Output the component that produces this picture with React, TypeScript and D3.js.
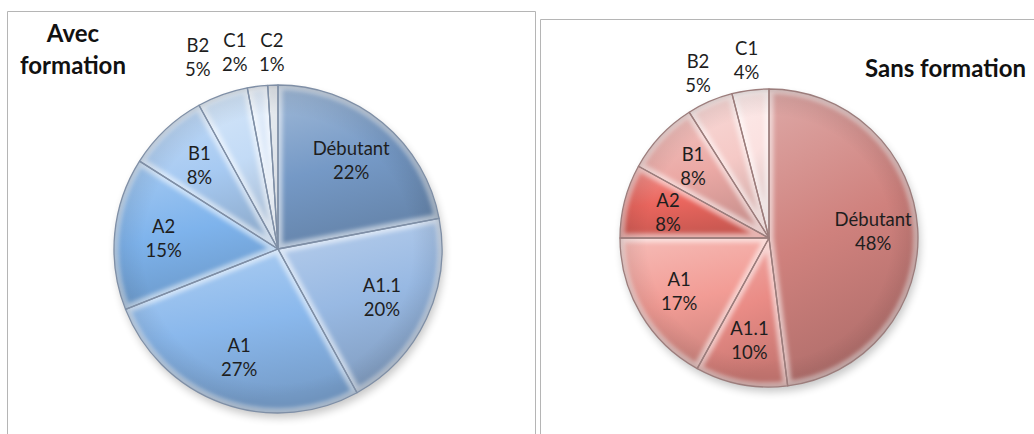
import React from "react";
import * as d3 from "d3";

// ---------- data ----------
const avecCategories = ["Débutant", "A1.1", "A1", "A2", "B1", "B2", "C1", "C2"];
const avecValues = [22, 20, 27, 15, 8, 5, 2, 1];
const avecColors = ["#7599c6", "#98b9e3", "#8ab8ec", "#7eb3ec", "#a7caf2", "#c3dbf6", "#d8e6f8", "#b9c4d2"];

const sansCategories = ["Débutant", "A1.1", "A1", "A2", "B1", "B2", "C1"];
const sansValues = [48, 10, 17, 8, 8, 5, 4];
const sansColors = ["#cf817d", "#ea8c86", "#f29c95", "#ea665e", "#eba9a5", "#f5c9c6", "#fbe1e0"];

const avecTitle = ["Avec", "formation"];
const sansTitle = ["Sans formation"];

const FONT = "Lato, 'Noto Sans', sans-serif";

type PieProps = {
  id: string;
  cx: number;
  cy: number;
  r: number;
  categories: string[];
  values: number[];
  colors: string[];
  edge: string;
};

function Pie({ id, cx, cy, r, categories, values, colors, edge }: PieProps) {
  const pie = d3
    .pie<number>()
    .sort(null)
    .value((d) => d)
    .startAngle(0)
    .endAngle(2 * Math.PI);
  const arcs = pie(values);
  const total = d3.sum(values);
  const arc = d3.arc<d3.PieArcDatum<number>>().innerRadius(0).outerRadius(r);
  const inLabel = d3.arc<d3.PieArcDatum<number>>().innerRadius(r * 0.7).outerRadius(r * 0.7);
  const outLabel = d3.arc<d3.PieArcDatum<number>>().innerRadius(r * 1.2).outerRadius(r * 1.2);

  // label positions, with outside labels spread apart
  const labels = arcs.map((a) => {
    const pct = (a.value / total) * 100;
    const outside = pct < 6;
    const [x, y] = outside ? outLabel.centroid(a) : inLabel.centroid(a);
    return { x, y, pct, outside };
  });
  const minGap = 37;
  for (let i = labels.length - 2; i >= 0; i--) {
    const cur = labels[i];
    const nxt = labels[i + 1];
    if (cur.outside && nxt.outside && nxt.x - cur.x < minGap) {
      cur.x = nxt.x - minGap;
      cur.y = Math.max(nxt.y, cur.y - 6);
    }
  }

  return (
    <g transform={`translate(${cx},${cy})`}>
      <defs>
        {colors.map((c, i) => (
          <linearGradient key={i} id={`${id}-g${i}`} x1="0" y1="0" x2="0.25" y2="1">
            <stop offset="0" stopColor={d3.interpolateRgb(c, "#ffffff")(0.32)} />
            <stop offset="0.55" stopColor={c} />
            <stop offset="1" stopColor={d3.interpolateRgb(c, "#000000")(0.14)} />
          </linearGradient>
        ))}
        {arcs.map((a, i) => (
          <clipPath key={i} id={`${id}-c${i}`}>
            <path d={arc(a) || ""} />
          </clipPath>
        ))}
        <filter id={`${id}-blur`} x="-20%" y="-20%" width="140%" height="140%">
          <feGaussianBlur stdDeviation="2.2" />
        </filter>
        <filter id={`${id}-shadow`} x="-20%" y="-20%" width="140%" height="140%">
          <feGaussianBlur stdDeviation="4" />
        </filter>
        <radialGradient id={`${id}-rim`} cx="0.5" cy="0.5" r="0.5">
          <stop offset="0.82" stopColor="#000" stopOpacity="0" />
          <stop offset="0.97" stopColor="#000" stopOpacity="0.08" />
          <stop offset="1" stopColor="#000" stopOpacity="0.15" />
        </radialGradient>
      </defs>
      <circle cx={2} cy={5} r={r} fill="#000" opacity={0.22} filter={`url(#${id}-shadow)`} />
      {arcs.map((a, i) => (
        <g key={i}>
          <path d={arc(a) || ""} fill={`url(#${id}-g${i})`} />
          <g clipPath={`url(#${id}-c${i})`}>
            <path
              d={arc(a) || ""}
              fill="none"
              stroke="#ffffff"
              strokeOpacity={0.55}
              strokeWidth={9}
              filter={`url(#${id}-blur)`}
            />
          </g>
        </g>
      ))}
      <circle r={r} fill={`url(#${id}-rim)`} />
      {arcs.map((a, i) => (
        <path key={i} d={arc(a) || ""} fill="none" stroke={edge} strokeWidth={1.3} strokeLinejoin="round" />
      ))}
      {labels.map((l, i) => (
        <text key={i} textAnchor="middle" fontFamily={FONT} fontSize={18.5} fill="#1e1e1e">
          <tspan x={l.x} y={l.y - 5.5}>
            {categories[i]}
          </tspan>
          <tspan x={l.x} y={l.y + 18.5}>
            {`${Math.round(l.pct)}%`}
          </tspan>
        </text>
      ))}
    </g>
  );
}

export default function App() {
  return (
    <svg
      width={1034}
      height={434}
      style={{ position: "absolute", left: 0, top: 0, background: "#ffffff" }}
    >
      <rect x={0} y={0} width={1034} height={434} fill="#ffffff" />
      {/* panel frames */}
      <path d="M7.5,440 V11.5 H535.5 V440" fill="none" stroke="#b5b5b5" strokeWidth={1} />
      <path d="M540.5,440 V19.5 H1040" fill="none" stroke="#b5b5b5" strokeWidth={1} />

      <Pie
        id="avec"
        cx={278}
        cy={249}
        r={164}
        categories={avecCategories}
        values={avecValues}
        colors={avecColors}
        edge="#7f8fa6"
      />
      <Pie
        id="sans"
        cx={769}
        cy={238}
        r={149}
        categories={sansCategories}
        values={sansValues}
        colors={sansColors}
        edge="#9c7d7c"
      />

      <text fontFamily={FONT} fontWeight={700} fontSize={24} fill="#111" textAnchor="middle">
        <tspan x={73} y={42}>{avecTitle[0]}</tspan>
        <tspan x={73} y={74}>{avecTitle[1]}</tspan>
      </text>
      <text x={865} y={77} fontFamily={FONT} fontWeight={700} fontSize={24} fill="#111">
        {sansTitle[0]}
      </text>
    </svg>
  );
}
